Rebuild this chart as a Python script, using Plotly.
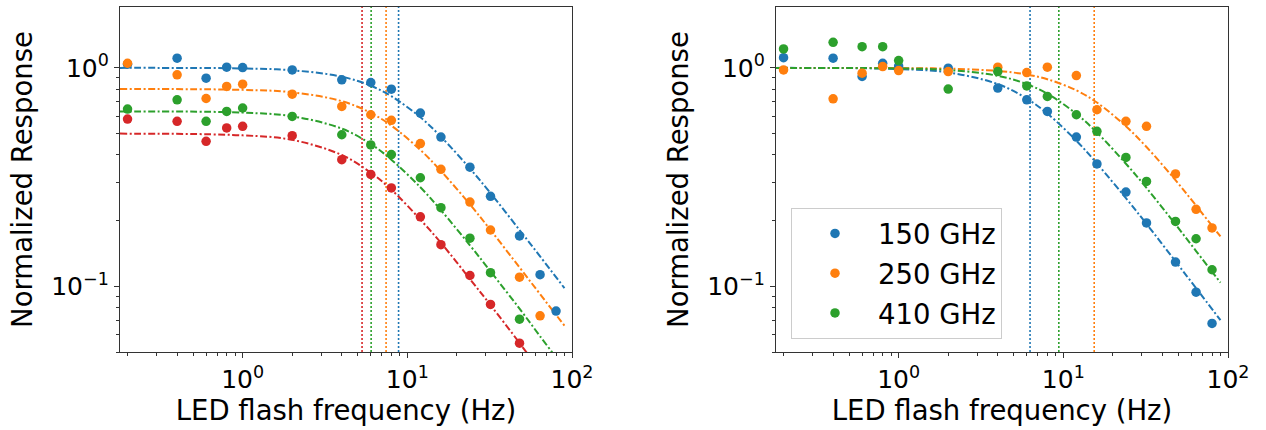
import math
import plotly.graph_objects as go

# ---------------- data ----------------
freq = [0.2, 0.4, 0.6, 0.8, 1, 2, 4, 6, 8, 12, 16, 24, 32, 48, 64, 80]

# left panel (four series, no legend)
left_blue = [1.04, 1.107, 0.897, 1.007, 1.003, 0.979, 0.882, 0.857, 0.799, 0.621, 0.482, 0.351, 0.258, 0.170, 0.113, 0.077]
left_orange = [1.05, 0.929, 0.724, 0.822, 0.842, 0.758, 0.666, 0.610, 0.575, 0.450, 0.343, 0.243, 0.181, 0.110, 0.0732]
left_green = [0.648, 0.714, 0.569, 0.632, 0.655, 0.599, 0.494, 0.444, 0.401, 0.314, 0.229, 0.166, 0.1154, 0.0707]
left_red = [0.583, 0.569, 0.461, 0.531, 0.540, 0.489, 0.380, 0.325, 0.282, 0.208, 0.155, 0.112, 0.0826, 0.0549]

# right panel
right_labels = ["150 GHz", "250 GHz", "410 GHz"]
right_blue = [1.114, 1.107, 0.913, 1.05, 1.02, 0.997, 0.808, 0.714, 0.632, 0.482, 0.363, 0.270, 0.195, 0.129, 0.094, 0.0676]
right_orange = [0.979, 0.722, 0.946, 1.014, 0.972, 0.962, 1.007, 0.952, 1.007, 0.922, 0.643, 0.569, 0.540, 0.327, 0.225, 0.185]
right_green = [1.221, 1.31, 1.25, 1.25, 1.08, 0.80, 0.962, 0.827, 0.740, 0.610, 0.512, 0.389, 0.302, 0.198, 0.165, 0.119]

# fitted curves
fit_freq = [0.18, 1, 2, 4, 6, 8, 12, 16, 24, 32, 48, 64, 90]
left_fit_blue = [1.000, 0.994, 0.975, 0.911, 0.828, 0.742, 0.594, 0.484, 0.346, 0.267, 0.181, 0.137, 0.098]
left_fit_orange = [0.800, 0.793, 0.773, 0.704, 0.622, 0.544, 0.421, 0.337, 0.237, 0.181, 0.122, 0.092, 0.066]
left_fit_green = [0.632, 0.624, 0.600, 0.527, 0.448, 0.380, 0.284, 0.223, 0.154, 0.117, 0.079, 0.059, 0.042]
left_fit_red = [0.500, 0.491, 0.468, 0.399, 0.331, 0.277, 0.202, 0.158, 0.108, 0.082, 0.055, 0.041, 0.029]
right_fit_blue = [1.000, 0.988, 0.953, 0.843, 0.723, 0.618, 0.464, 0.365, 0.253, 0.193, 0.130, 0.098, 0.070]
right_fit_orange = [1.000, 0.998, 0.992, 0.968, 0.932, 0.887, 0.789, 0.694, 0.540, 0.434, 0.306, 0.234, 0.169]
right_fit_green = [1.000, 0.994, 0.978, 0.920, 0.843, 0.761, 0.616, 0.506, 0.364, 0.282, 0.192, 0.145, 0.104]

# cutoff frequencies (vertical dotted lines)
left_cutoffs = [8.85, 7.43, 6.03, 5.31]      # blue, orange, green, red
right_cutoffs = [6.28, 15.4, 9.39]           # blue, orange, green

x_ticks = [1, 10, 100]
x_ticktext = ["10<sup>0</sup>", "10<sup>1</sup>", "10<sup>2</sup>"]
y_ticks = [0.1, 1]
y_ticktext = ["10<sup>\u22121</sup>", "10<sup>0</sup>"]
X_MIN, X_MAX = 0.18, 100
Y_MIN, Y_MAX = 0.05, 1.9

colors = ["#1f77b4", "#ff7f0e", "#2ca02c", "#d62728"]
FONT = "DejaVu Sans"

fig = go.Figure()


def add_panel(xa, ya, series, fits, cutoffs, names):
    # vertical dotted lines at the cutoff frequencies
    for c, f0 in zip(colors, cutoffs):
        fig.add_trace(go.Scatter(x=[f0, f0], y=[Y_MIN, Y_MAX], mode="lines",
                                 line=dict(color=c, width=1.6, dash="2px,2px"),
                                 xaxis=xa, yaxis=ya, showlegend=False, hoverinfo="skip"))
    # fitted curves
    for c, fv in zip(colors, fits):
        fig.add_trace(go.Scatter(x=fit_freq, y=fv, mode="lines",
                                 line=dict(color=c, width=2, dash="7px,2.5px,2px,2.5px", shape="spline"),
                                 xaxis=xa, yaxis=ya, showlegend=False, hoverinfo="skip"))
    # measured points
    for i, (c, v) in enumerate(zip(colors, series)):
        nm = names[i] if names else None
        fig.add_trace(go.Scatter(x=freq[:len(v)], y=v, mode="markers",
                                 marker=dict(color=c, size=9.5, line=dict(width=0)),
                                 name=nm, legendgroup=nm, showlegend=bool(names),
                                 xaxis=xa, yaxis=ya))


add_panel("x", "y", [left_blue, left_orange, left_green, left_red],
          [left_fit_blue, left_fit_orange, left_fit_green, left_fit_red], left_cutoffs, None)
add_panel("x2", "y2", [right_blue, right_orange, right_green],
          [right_fit_blue, right_fit_orange, right_fit_green], right_cutoffs, right_labels)

W, H = 1266, 430
common = dict(type="log", showline=True, linecolor="#333", linewidth=1.3, mirror=True,
              ticks="outside", ticklen=5, tickwidth=1.2, tickcolor="#333",
              showgrid=False, zeroline=False, automargin=False,
              tickfont=dict(family=FONT, size=25, color="black"),
              minor=dict(ticks="outside", ticklen=3, tickwidth=1, tickcolor="#333", dtick="D1", showgrid=False))

xax = dict(common, range=[math.log10(X_MIN), math.log10(X_MAX)], tickmode="array",
           tickvals=x_ticks, ticktext=x_ticktext,
           title=dict(text="LED flash frequency (Hz)", font=dict(family=FONT, size=27.5, color="black"), standoff=3))
yax = dict(common, range=[math.log10(Y_MIN), math.log10(Y_MAX)], tickmode="array",
           tickvals=y_ticks, ticktext=y_ticktext,
           title=dict(text="Normalized Response", font=dict(family=FONT, size=27.5, color="black"), standoff=10))

ydom = [1 - 352 / H, 1 - 7 / H]
fig.update_layout(
    width=W, height=H, autosize=False,
    margin=dict(l=0, r=0, t=0, b=0, autoexpand=False),
    paper_bgcolor="white", plot_bgcolor="white",
    font=dict(family=FONT, color="black"),
    xaxis=dict(xax, domain=[120 / W, 572 / W], anchor="y"),
    yaxis=dict(yax, domain=ydom, anchor="x"),
    xaxis2=dict(xax, domain=[776 / W, 1228 / W], anchor="y2"),
    yaxis2=dict(yax, domain=ydom, anchor="x2"),
    showlegend=True,
    legend=dict(x=791 / W, y=1 - 208 / H, xanchor="left", yanchor="top",
                font=dict(family=FONT, size=27.5, color="black"),
                bgcolor="rgba(255,255,255,0.8)", bordercolor="#cccccc", borderwidth=1,
                itemwidth=76, tracegroupgap=1, traceorder="grouped"),
)

fig.write_html("out.html",
               config={"displayModeBar": False, "responsive": False},
               post_script="document.body.style.margin='0';document.body.style.overflow='hidden';")
